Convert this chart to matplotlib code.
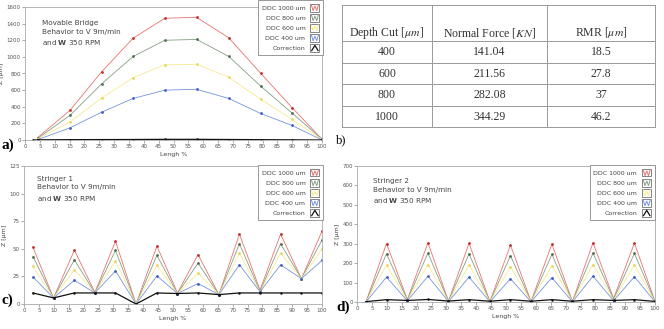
import numpy as np
import matplotlib
matplotlib.use('Agg')
import matplotlib.pyplot as plt
from matplotlib.lines import Line2D
from matplotlib.patches import Rectangle
from matplotlib.legend_handler import HandlerBase

plt.rcParams['font.family'] = ['DejaVu Sans']

# a) movable bridge
xa = [4.3, 15.1, 25.8, 36.4, 47.1, 57.8, 68.6, 79.3, 89.9, 100]
a_1000 = [30, 355, 820, 1225, 1465, 1475, 1230, 805, 390, 10]
a_800 = [20, 295, 675, 1005, 1200, 1210, 1005, 650, 325, 10]
a_600 = [15, 215, 505, 750, 905, 910, 755, 490, 250, 5]
a_400 = [5, 145, 335, 500, 600, 610, 500, 320, 175, 0]
xa_corr = [2.8, 4.3, 15.1, 25.8, 36.4, 47.1, 57.8, 68.6, 79.3, 89.9, 100]
a_corr = [0, 2, 4, 5, 6, 8, 8, 6, 4, 2, 0]

# c) stringer 1 / d) stringer 2 share the x positions
xs = [3, 9.9, 16.9, 23.8, 30.7, 37.6, 44.6, 51.5, 58.4, 65.4, 72.3, 79.2, 86.1, 93.1, 100]
c_1000 = [51.5, 5.4, 48.7, 10.6, 56.9, 0, 52.4, 10, 44.8, 8.5, 63.3, 12.7, 63.3, 23, 66]
c_800 = [43, 5.5, 40, 10, 48.5, 0, 44, 9.5, 37, 8.5, 54.5, 11.5, 54.5, 23, 58]
c_600 = [34, 5.5, 31, 10, 39, 0, 35, 9.5, 28, 8.5, 46, 11, 46, 23, 50]
c_400 = [24.5, 5.5, 21.5, 10, 30, 0, 25.5, 9.5, 18.5, 8.5, 35.5, 11, 35.5, 23, 39.5]
c_corr = [10, 5.5, 10, 10, 10, 0, 10, 9.5, 10, 8.5, 10, 10, 10, 10, 10]

d_1000 = [0, 301, 12, 305, 5, 302, 3, 293, 3, 298, 3, 305, 18, 303, 3]
d_800 = [0, 248, 10, 252, 4, 248, 2, 238, 2, 245, 2, 252, 14, 250, 2]
d_600 = [0, 190, 8, 193, 3, 190, 2, 182, 2, 187, 2, 193, 10, 192, 2]
d_400 = [0, 128, 6, 133, 2, 128, 1, 120, 1, 125, 1, 133, 7, 130, 1]
d_corr = [2, 12, 8, 13, 5, 12, 4, 12, 4, 12, 4, 12, 8, 12, 3]

# b) table
depth = ['400', '600', '800', '1000']
force = ['141.04', '211.56', '282.08', '344.29']
rmr = ['18.5', '27.8', '37', '46.2']
headers = ['Depth Cut [$\\mu m$]', 'Normal Force [$KN$]', 'RMR [$\\mu m$]']

labels = ['DDC 1000 um', 'DDC 800 um', 'DDC 600 um', 'DDC 400 um', 'Correction']
colors = ['#e8736f', '#85a086', '#f6ea92', '#7794de', '#111111']
dotcolors = ['#c0302c', '#4f6f50', '#e8d860', '#3f5fc0', '#111111']


class ZigHandler(HandlerBase):
    def create_artists(self, legend, orig, xd, yd, w, h, fontsize, trans):
        c = orig.get_color()
        x0, y0 = -xd, -yd
        box = Rectangle((x0, y0), w, h, fill=False, ec='#555', lw=0.5, transform=trans)
        if orig.get_label() == 'Correction':
            px = [0.15, 0.5, 0.85]
            py = [0.15, 0.85, 0.15]
            lw = 0.9
        else:
            px = [0.12, 0.3, 0.5, 0.7, 0.88]
            py = [0.88, 0.12, 0.75, 0.12, 0.88]
            lw = 0.7
        ln = Line2D(x0 + np.array(px) * w, y0 + np.array(py) * h, color=c, lw=lw, transform=trans)
        return [box, ln]


def panel(ax, series, xcorr, corr, ylim, yticks, note, note_xy):
    handles = []
    for (x, y), c, dc in zip(series, colors, dotcolors):
        ln, = ax.plot(x, y, color=c, lw=0.6, marker='o', ms=1.0, mfc=dc, mec=dc)
        handles.append(ln)
    ln, = ax.plot(xcorr, corr, color=colors[4], lw=0.9, marker='o', ms=0.8)
    handles.append(ln)
    for h, l in zip(handles, labels):
        h.set_label(l)
    ax.set_xlim(0, 100)
    ax.set_ylim(*ylim)
    ax.set_xticks(np.arange(0, 101, 5))
    ax.set_yticks(yticks)
    ax.tick_params(direction='out', length=2, width=0.5, color='#888',
                   labelsize=4, labelcolor='#555', pad=1)
    for s in ax.spines.values():
        s.set_color('#aaa')
        s.set_linewidth(0.6)
    ax.set_xlabel('Lengh %', fontsize=4.5, color='#444', labelpad=2)
    ax.set_ylabel('Z [μm]', fontsize=4.5, color='#444', labelpad=2)
    ax.text(note_xy[0], note_xy[1], note, transform=ax.transAxes, fontsize=5.2, color='#444',
            va='top', ha='left', linespacing=1.5, math_fontfamily='dejavusans')
    return handles


fig = plt.figure(figsize=(6.64, 3.29), dpi=100)
W, H = 664, 329


def box(l, r, t, b):
    return [l / W, 1 - b / H, (r - l) / W, (b - t) / H]


axa = fig.add_axes(box(25, 322, 7, 140))
ha = panel(axa, [(xa, a_1000), (xa, a_800), (xa, a_600), (xa, a_400)], xa_corr, a_corr,
           (0, 1600), np.arange(0, 1601, 200),
           'Movable Bridge\nBehavior to V 9m/min\nand $\\mathbf{W}$ 350 RPM', (0.058, 0.9))
axc = fig.add_axes(box(24, 322, 166, 304))
hc = panel(axc, [(xs, c_1000), (xs, c_800), (xs, c_600), (xs, c_400)], xs, c_corr,
           (0, 125), np.arange(0, 126, 25),
           'Stringer 1\nBehavior to V 9m/min\nand $\\mathbf{W}$ 350 RPM', (0.042, 0.93))
axd = fig.add_axes(box(357, 655, 166, 302))
hd = panel(axd, [(xs, d_1000), (xs, d_800), (xs, d_600), (xs, d_400)], xs, d_corr,
           (0, 700), np.arange(0, 701, 100),
           'Stringer 2\nBehavior to V 9m/min\nand $\\mathbf{W}$ 350 RPM', (0.055, 0.91))

for ax, hs, anchor in [(axa, ha, (1.004, 1.05)), (axc, hc, (1.004, 1.005)), (axd, hd, (1.0, 1.005))]:
    leg = ax.legend(hs, labels, loc='upper right', bbox_to_anchor=anchor, fontsize=4.5,
                    markerfirst=False, handler_map={Line2D: ZigHandler()},
                    fancybox=False, edgecolor='#888', framealpha=1,
                    handlelength=1.45, handleheight=1.45, labelspacing=0.42,
                    borderpad=0.6, handletextpad=0.8, borderaxespad=0)
    leg.get_frame().set_linewidth(0.6)
    for t in leg.get_texts():
        t.set_color('#444')

# table b)
tb = fig.add_axes(box(342, 655, 5, 127.3))
tb.set_xlim(0, 313)
tb.set_ylim(122.3, 0)
tb.axis('off')
col_edges = [0, 90, 205, 313]
row_edges = [0, 35.7, 58.3, 79.3, 101, 122.3]
for y in row_edges:
    tb.plot([0, 313], [y, y], color='#999', lw=0.7, clip_on=False)
for x in col_edges:
    tb.plot([x, x], [0, 122.3], color='#999', lw=0.7, clip_on=False)
serif = dict(family='Liberation Serif', fontsize=8.5, color='#333', math_fontfamily='stix')
for j, htxt in enumerate(headers):
    cx = (col_edges[j] + col_edges[j + 1]) / 2
    tb.text(cx, 28, htxt, ha='center', va='center', **serif)
for i, row in enumerate(zip(depth, force, rmr)):
    cy = (row_edges[i + 1] + row_edges[i + 2]) / 2
    for j, v in enumerate(row):
        cx = (col_edges[j] + col_edges[j + 1]) / 2
        tb.text(cx, cy, v, ha='center', va='center', **serif)

fig.text(2 / W, 1 - 145 / H, 'a)', family='Liberation Serif', fontsize=11, weight='bold', va='center')
fig.text(336 / W, 1 - 140 / H, 'b)', family='Liberation Serif', fontsize=9, va='center')
fig.text(1 / W, 1 - 300 / H, 'c)', family='Liberation Serif', fontsize=11, weight='bold', va='center')
fig.text(336 / W, 1 - 307 / H, 'd)', family='Liberation Serif', fontsize=11, weight='bold', va='center')

fig.savefig('out.png', dpi=100)
